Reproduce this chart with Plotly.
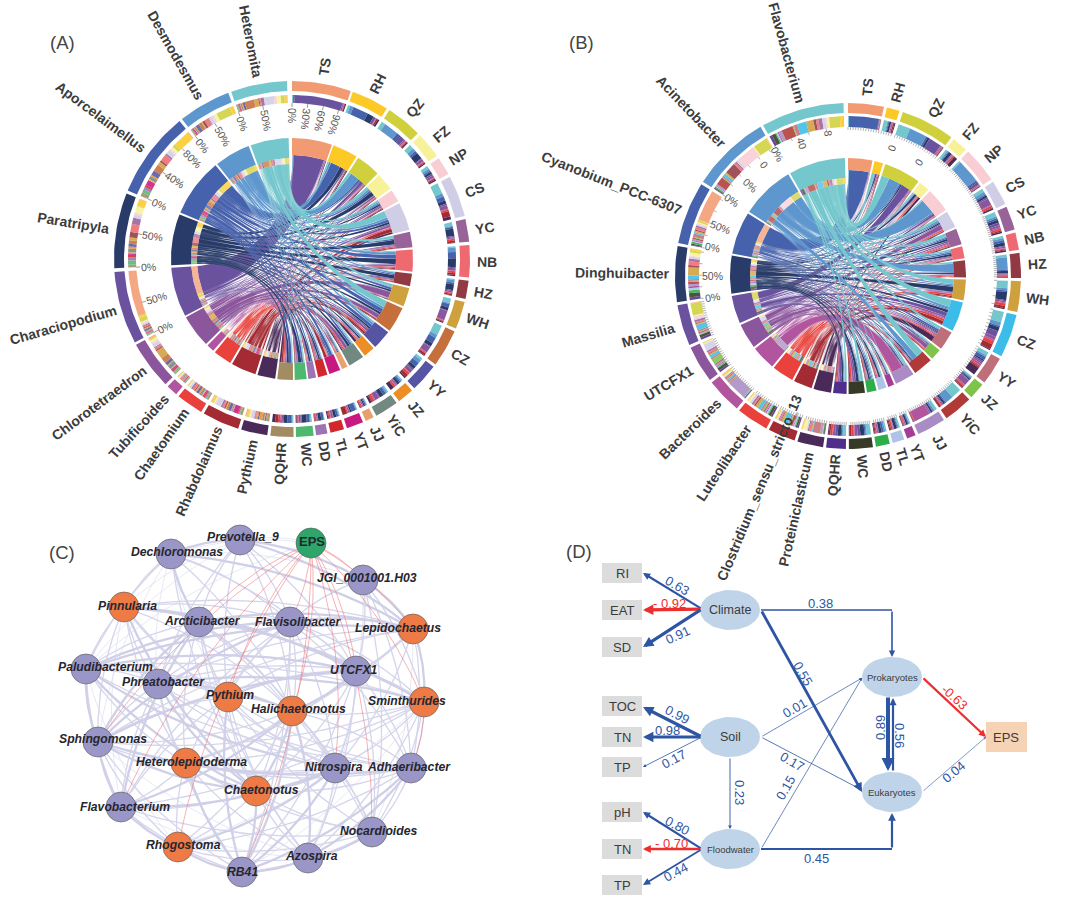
import math
import plotly.graph_objects as go

# ---------- Panel A data ----------
A_sites = ["TS","RH","QZ","FZ","NP","CS","YC","NB","HZ","WH","CZ","YY","JZ","YiC","JJ","YT","TL","DD","WC","QQHR"]
A_site_colors = ["#F29B72","#FDC926","#CFD03B","#F7F29A","#F8CDD4","#CFCEE6","#986399","#EE6A70","#923A44","#CFA03E",
                 "#C46F3C","#5555A3","#EC8E23","#718981","#E8A06E","#C7197F","#D3272E","#9D73B3","#4FB86F","#A38C62"]
A_site_span = [(0,19.3),(20,32.2),(33.2,45),(46,54.5),(55.5,61.5),(62.5,76),(77,84.4),(85.5,96),(97,103),(104,113),
               (114,126.3),(127.3,136.6),(137.6,143),(144,151.7),(152.7,155.5),(156.5,162),(163,167.5),(168.5,172.2),(173,178.7),(179.5,187)]
A_species = ["Heteromita","Desmodesmus","Aporcelaimellus","Paratripyla","Characiopodium","Chlorotetraedron","Tubificoides","Chaetomium","Rhabdolaimus","Pythium"]
A_species_colors = ["#74C7CC","#5E97CE","#4762AC","#283B69","#6B529F","#8C569C","#B0559E","#E9423D","#A42A33","#4A2A58"]
A_species_span = [(340,358.4),(321.8,339),(292.6,320.8),(267,291.6),(242,265.8),(225.3,241.2),(220.6,224.3),(210.7,219.6),(197.6,209.7),(188,196.6)]
A_flow = [
 [0.3,0.1,0.3,0.2,17,0.5,0.1,0.1,0.2,0.4],
 [0.8,1.2,5.4,2.3,0.8,0.2,0.1,0.1,0.5,0.6],
 [1.4,5.2,1.2,0.4,1.6,0.5,0.3,0.2,0.4,0.4],
 [1.6,1.2,0.9,2.4,0.3,0.9,0.2,0.3,0.3,0.4],
 [1.0,0.8,0.5,0.8,0.6,0.8,0.2,0.2,0.5,0.5],
 [3.8,1.2,1.5,1.2,0.5,1.3,0.3,0.6,1.9,1.1],
 [1.2,0.3,0.6,2.4,0.4,0.4,0.1,0.6,0.6,0.2],
 [0.5,1.5,2.2,3.0,0.4,0.8,0.2,0.7,0.6,0.4],
 [0.4,0.9,0.6,2.0,0.4,0.5,0.1,0.4,0.5,0.1],
 [1.6,0.4,1.2,1.1,0.2,3.4,0.2,0.2,0.3,0.4],
 [3.6,1.2,2.2,1.3,0.3,2.2,0.3,0.3,0.7,0.3],
 [0.8,1.2,1.6,1.0,0.6,1.2,0.2,0.8,1.0,0.5],
 [0.4,0.3,0.5,0.8,0.2,0.4,0.2,0.5,0.2,1.2],
 [0.5,0.5,1.0,1.3,0.3,1.5,0.3,0.7,0.4,0.7],
 [0.2,0.2,0.4,0.4,0.1,0.3,0.2,0.4,0.2,0.2],
 [0.3,0.4,1.8,0.6,0.2,0.5,0.2,0.4,1.8,0.1],
 [0.3,0.3,0.7,1.0,0.2,0.6,0.3,0.5,0.3,0.4],
 [0.2,0.1,0.9,1.1,0.2,0.4,0.2,0.5,0.2,0.1],
 [0.4,0.3,1.0,1.6,0.4,0.5,0.2,0.3,0.3,0.3],
 [0.3,0.2,1.3,1.0,0.3,0.5,0.3,0.6,0.8,0.9],
]
A_axis_species = {"Heteromita":[0,50],"Desmodesmus":[0,50],"Aporcelaimellus":[0,40,80],"Paratripyla":[0,50],"Characiopodium":[0,50]}
A_axis_ts = [0,30,60,90]

# ---------- Panel B data ----------
B_sites = A_sites
B_site_colors = ["#F29B72","#FDC926","#CFD03B","#F7F29A","#F8CDD4","#CFCEE6","#986399","#EE6A70","#923A44","#CFA03E",
                 "#3CBCE8","#BE6F7A","#7FC34B","#B03A38","#A98CC4","#A33D98","#AEC3E8","#2EAD4A","#363A27","#4F2E8C"]
B_site_span = [(0,12),(13,17.3),(18.5,36.7),(37.7,43),(44,56),(57,65.4),(66.4,74.4),(75.4,81.3),(82.3,90.7),(91.7,102),
               (103,117.6),(118.6,128),(129,134.5),(135.5,145.3),(146.3,156),(157,160),(161,165),(166,170.7),(171.7,179.7),(180.7,187.3)]
B_species = ["Flavobacterium","Acinetobacter","Cyanobium_PCC-6307","Dinghuibacter","Massilia","UTCFX1","Bacteroides","Luteolibacter","Clostridium_sensu_stricto_13","Proteiniclasticum"]
B_species_colors = A_species_colors
B_species_span = [(330.6,358.5),(303,329.6),(281,302),(261.3,280),(246.5,260.3),(233,245.5),(220,232),(208.2,219),(198,207.2),(188.3,197)]
B_flow = [
 [0.3,0.1,11.2,0.1,0.2,0.05,0.2,0.1,0.1,0.1],
 [1.2,0.3,0.3,0.6,0.1,0.1,0.4,0.1,0.4,0.3],
 [4.2,6.2,0.6,0.8,4.5,0.3,0.4,0.2,0.2,0.2],
 [0.8,0.5,0.3,1.2,0.3,0.2,0.3,0.5,0.2,1.3],
 [0.7,8.5,0.5,0.3,1.0,0.3,0.1,0.2,0.2,0.2],
 [1.2,1.0,0.5,0.8,0.5,2.5,0.3,0.7,0.3,0.5],
 [1.5,0.6,0.6,1.0,0.8,0.7,0.5,0.6,0.4,0.5],
 [0.9,0.9,0.9,1.3,0.4,0.5,0.2,0.4,0.4,0.6],
 [1.0,4.8,0.4,0.8,0.3,0.3,0.3,0.5,0.3,0.2],
 [2.8,0.8,0.6,3.0,0.4,0.5,0.3,1.0,0.8,0.4],
 [3.6,1.2,0.5,1.4,2.0,1.0,0.6,1.1,1.8,0.3],
 [1.4,0.6,1.2,0.6,0.6,0.6,0.8,0.6,0.5,3.0],
 [0.4,0.3,0.3,0.4,0.3,2.0,0.3,0.5,0.4,0.2],
 [4.5,3.5,0.5,0.8,0.4,0.4,0.2,0.4,0.8,0.2],
 [1.3,0.7,0.4,0.8,0.3,0.6,8.0,0.4,0.3,0.2],
 [0.4,0.2,0.3,0.6,0.1,0.3,0.2,0.3,0.2,0.2],
 [0.5,0.3,0.3,0.9,0.1,0.2,0.2,0.5,0.4,0.3],
 [0.5,0.6,0.7,1.0,0.2,0.4,0.2,0.4,0.4,0.3],
 [1.5,0.4,0.4,1.5,1.0,1.0,0.3,0.9,0.6,0.3],
 [1.0,0.3,0.3,1.0,0.8,0.7,0.2,0.6,0.5,0.3],
]
B_axis_angle = [352,341,330,323,313,303,291,282,270,261,19,32]
B_axis_text = ["8","40","0%","0","0%","0%","50%","0%","50%","0%","0","0"]
B_axis_r = [144,140,141,139,134,139,137,139,136,137,135,134]
B_site_tick_step = [1.0,1.0,1.0,0.8,0.8,0.8,0.8,0.8,0.8,3,1.4,1.0,0.8,0.8,0.8,0.8,0.8,0.8,0.8,0.8]
B_species_tick_step = [7,5,5,4.5,0.9,0.9,0.9,0.9,0.9,0.9]

# ---------- Panel C data ----------
C_names = ["EPS","Prevotella_9","Dechloromonas","Pinnularia","Arcticibacter","Flavisolibacter","JGI_0001001.H03","Lepidochaetus",
           "UTCFX1","Sminthurides","Paludibacterium","Phreatobacter","Pythium","Halichaetonotus","Sphingomonas","Heterolepidoderma",
           "Chaetonotus","Nitrospira","Adhaeribacter","Flavobacterium","Nocardioides","Rhogostoma","Azospira","RB41"]
C_x = [311,240,171,124,199,290,363,413,356,424,86,158,228,292,98,186,256,335,411,121,372,178,308,242]
C_y = [543,540,554,607,622,622,580,629,671,702,669,684,697,711,742,763,791,768,768,807,832,847,858,872]
C_kind = ["env","pro","pro","euk","pro","pro","pro","euk","pro","euk","pro","pro","euk","euk","pro","euk","euk","pro","pro","pro","pro","euk","pro","pro"]
C_label_x = [312,243,177,127,202,298,367,398,354,407,105,163,230,298,103,191,261,334,409,125,378,183,311,242]
C_label_y = [541,537,552,606,621,622,578,628,670,701,667,682,695,709,739,762,790,767,767,807,831,845,856,872]
C_edges_thick = [(2,1),(1,6),(6,7),(7,9),(10,14),(14,19),(19,21),(21,23),(23,22),(22,20),(10,5),(10,8),(10,7),(14,5),(14,4),(14,8),
                 (19,13),(19,4),(3,8),(3,9),(4,7),(5,7),(11,9),(11,13),(12,8),(13,8),(13,16),(16,17),(15,16),(15,23),(13,23),(16,23),
                 (2,4),(2,7),(1,7),(10,17),(10,16),(14,16),(14,18),(19,17),(21,17),(23,17),(23,18),(22,18),(13,22),(12,23),(3,16),(11,16)]
C_edges_mid = [(1,4),(1,5),(1,8),(2,5),(2,8),(2,3),(2,10),(3,4),(3,5),(3,7),(3,10),(3,11),(3,12),(3,14),(4,5),(4,8),(4,9),(4,10),(4,11),(4,13),(4,16),
               (5,6),(5,8),(5,9),(5,11),(5,12),(5,13),(5,15),(5,17),(6,8),(6,9),(6,18),(6,20),(7,8),(7,11),(7,12),(7,13),(7,17),(7,18),(8,9),(8,11),(8,13),(8,17),(8,18),(8,20),
               (9,13),(9,17),(9,18),(9,20),(9,22),(10,11),(10,12),(10,13),(10,15),(10,19),(11,12),(11,14),(11,15),(11,19),(12,13),(12,14),(12,16),(12,17),(12,19),(13,14),(13,15),(13,17),(13,18),(13,20),
               (14,15),(14,17),(14,21),(14,23),(15,17),(15,19),(15,21),(15,22),(16,18),(16,19),(16,20),(16,21),(16,22),(17,18),(17,20),(17,22),(18,20),(19,20),(19,23),(20,23),(21,22),(21,20),
               (1,11),(1,12),(1,13),(2,13),(2,16),(3,13),(3,15),(3,17),(4,12),(4,15),(4,17),(4,20),(4,22),(5,16),(5,18),(5,19),(5,23),(7,14),(7,15),(8,15),(8,16),(8,22),(9,15),(9,19),(10,9),(10,18),(11,17),(11,18),(11,23),(12,18),(12,20),(12,22),(14,9),(15,18),(15,20),(21,13),(21,18),(23,8)]
C_edges_thin = [(0,1),(0,2),(0,10),(1,3),(1,10),(2,14),(3,19),(10,21),(6,9),(6,22),(9,23),(18,22),(2,6),(6,17),(1,12),(2,11),(2,12),(14,22),(19,22),(9,21),(7,20)]
C_edges_red = [(0,6),(0,7),(0,9),(0,5),(0,4),(0,14),(0,19),(0,23),(0,21),(0,13),(0,8),(0,17),(0,20),(9,18),(0,12)]

# ---------- Panel D data ----------
D_box_names = ["RI","EAT","SD","TOC","TN","TP","pH","TN","TP"]
D_box_x = [622,622,622,622,622,622,622,622,622]
D_box_y = [573,610,647,706,737,767,812,849,885]
D_ell_names = ["Climate","Soil","Floodwater","Prokaryotes","Eukaryotes"]
D_ell_x = [730,730,730,892,892]
D_ell_y = [610,737,849,677,792]
D_ell_size = [12.5,12.5,9.5,9.5,9.5]
D_arrow_x0 = [702,702,702,702,702,702,702,702,702,761,761,761,761,730,761,888,893,922,922]
D_arrow_y0 = [609,609,609,737,737,737,849,849,849,610,610,737,737,757,849,696,772,677,792]
D_arrow_x1 = [643,643,643,643,643,643,643,643,643,892,862,862,862,730,862,888,893,986,986]
D_arrow_y1 = [573,610,647,707,737,767,812,849,885,657,792,678,790,829,678,771,698,737,737]
D_arrow_w = [2.2,3.2,3.2,3.2,3.2,0.8,2.2,2.4,1.8,1.6,2.8,0.7,0.8,0.9,0.7,4,2.2,2.2,0.6]
D_arrow_red = [0,1,0,0,0,0,0,1,0,0,0,0,0,0,0,0,0,1,0]
D_arrow_elbow_x = [None]*9 + [892] + [None]*9
D_arrow_elbow_y = [None]*9 + [610] + [None]*9
D_floodwater_x = [761,892,892]
D_floodwater_y = [849,849,813]
D_coef_text = ["0.63","- 0.92","0.91","0.99","0.98","0.17","0.80","- 0.70","0.44","0.38","0.55","0.01","0.17","0.23","0.15","0.45","0.89","0.56","-0.63","0.04"]
D_coef_x = [677,669,677,677,667,673,677,671,675,820,803,794,792,740,785,816,880,900,955,953]
D_coef_y = [585,603,635,714,730,759,825,843,872,603,673,708,761,792,788,858,728,735,697,772]
D_coef_a = [30,0,-25,28,0,-28,28,0,-28,0,60,-30,30,90,-60,0,-90,90,42,-40]
D_coef_red = [0,1,0,0,0,0,0,1,0,0,0,0,0,0,0,0,0,0,1,0]

panel_letters = ["(A)","(B)","(C)","(D)"]
panel_x = [62,581,62,579]
panel_y = [42,42,552,551]

FONT = "Liberation Sans, Arial, sans-serif"
fig = go.Figure()
ann = []


def pt(cx, cy, r, a):
    t = math.radians(a)
    return cx + r * math.sin(t), cy - r * math.cos(t)


def rgba(h, al=1.0):
    return "rgba(%d,%d,%d,%.3f)" % (int(h[1:3], 16), int(h[3:5], 16), int(h[5:7], 16), al)


def add_poly(groups, edge=None):
    for col, (xs, ys) in groups.items():
        fig.add_trace(go.Scatter(x=xs, y=ys, mode="lines", fill="toself", fillcolor=col,
                                 line=dict(width=edge[1], color=edge[0]) if edge else dict(width=0),
                                 hoverinfo="skip", showlegend=False))


def push(groups, col, pts):
    g = groups.setdefault(col, ([], []))
    g[0].extend(p[0] for p in pts + [pts[0]])
    g[1].extend(p[1] for p in pts + [pts[0]])
    g[0].append(None)
    g[1].append(None)


def arc(cx, cy, r, a0, a1):
    n = max(2, int(abs(a1 - a0) / 1.5) + 2)
    return [pt(cx, cy, r, a0 + (a1 - a0) * i / (n - 1)) for i in range(n)]


def annular(groups, col, cx, cy, r0, r1, a0, a1):
    push(groups, col, arc(cx, cy, r1, a0, a1) + arc(cx, cy, r0, a1, a0))


def bez(p0, p1, c):
    out = []
    for i in range(1, 23):
        t = i / 23
        out.append(((1 - t) ** 2 * p0[0] + 2 * t * (1 - t) * c[0] + t * t * p1[0],
                    (1 - t) ** 2 * p0[1] + 2 * t * (1 - t) * c[1] + t * t * p1[1]))
    return out


def cubic(p0, c0, c1, p1, t):
    u = 1 - t
    return (u**3 * p0[0] + 3*u*u*t * c0[0] + 3*u*t*t * c1[0] + t**3 * p1[0],
            u**3 * p0[1] + 3*u*u*t * c0[1] + 3*u*t*t * c1[1] + t**3 * p1[1])


def ribbon(cx, cy, Rs, Rb, a0, a1, b0, b1, k=0.38, squeeze=0.5):
    am, bm = (a0 + a1) / 2, (b0 + b1) / 2
    P0, P1 = pt(cx, cy, Rs, am), pt(cx, cy, Rb, bm)
    C0, C1 = pt(cx, cy, Rs * k, am), pt(cx, cy, Rb * k, bm)
    wa = Rs * math.radians(a1 - a0)
    wb = Rb * math.radians(b1 - b0)
    A1 = pt(cx, cy, Rs, a1)
    n = 26
    side_p, side_m = [], []
    sign = None
    for i in range(1, n):
        t = i / n
        x, y = cubic(P0, C0, C1, P1, t)
        xa, ya = cubic(P0, C0, C1, P1, t - 0.01)
        xb, yb = cubic(P0, C0, C1, P1, t + 0.01)
        tx, ty = xb - xa, yb - ya
        L = math.hypot(tx, ty) or 1
        nx, ny = -ty / L, tx / L
        if sign is None:
            sign = 1 if nx * (A1[0] - P0[0]) + ny * (A1[1] - P0[1]) >= 0 else -1
        w = (wa * (1 - t) + wb * t) * (1 - squeeze * math.sin(math.pi * t)) / 2
        side_p.append((x + sign * nx * w, y + sign * ny * w))
        side_m.append((x - sign * nx * w, y - sign * ny * w))
    return arc(cx, cy, Rs, a0, a1) + side_p + arc(cx, cy, Rb, b0, b1) + side_m[::-1]


def text_w(s, size, bold=True):
    w = 0
    for ch in s:
        if ch in "iljI.,:'": w += .28
        elif ch in "ftr_-": w += .37 if ch != "_" else .55
        elif ch in "mwMW": w += .86
        elif ch.isupper(): w += .70
        else: w += .57
    return w * size


def note(x, y, s, size=10, color="#444", angle=0, bold=False, italic=False):
    if bold: s = "<b>" + s + "</b>"
    if italic: s = "<i>" + s + "</i>"
    ann.append(dict(x=x, y=y, xref="x", yref="y", text=s, showarrow=False, textangle=angle, xanchor="center", yanchor="middle",
                    font=dict(family=FONT, size=size, color=color)))


def chord(cx, cy, rad, sites, scol, sspan, species, pcol, pspan, flow, near_override, label_size):
    R0, R1, R2, R3, Rb, Rs, Rp1 = rad
    ns, np_ = len(sites), len(species)
    row = [sum(r) for r in flow]
    colsum = [sum(flow[i][j] for i in range(ns)) for j in range(np_)]
    sa = {}
    for i in range(ns):
        a = sspan[i][0]
        w = sspan[i][1] - sspan[i][0]
        for j in range(np_):
            d = flow[i][j] / row[i] * w
            sa[(i, j)] = (a, a + d)
            a += d
    pa = {}
    for j in range(np_):
        a = pspan[j][0]
        w = pspan[j][1] - pspan[j][0]
        for i in range(ns - 1, -1, -1):
            d = flow[i][j] / colsum[j] * w
            pa[(i, j)] = (a, a + d)
            a += d
    for j in range(np_ - 1, -1, -1):
        g = {}
        for i in range(ns):
            a0, a1 = sa[(i, j)]
            b0, b1 = pa[(i, j)]
            push(g, pcol[j], ribbon(cx, cy, Rs, Rb, a0, a1, b0, b1))
        add_poly(g, ("rgba(255,255,255,0.22)", 0.3))
    g_outer, g_band = {}, {}
    for i in range(ns):
        annular(g_outer, scol[i], cx, cy, R0, R1, *sspan[i])
        annular(g_band, scol[i], cx, cy, Rs, Rp1, *sspan[i])
    for j in range(np_):
        annular(g_outer, pcol[j], cx, cy, R0, R1, *pspan[j])
        annular(g_band, pcol[j], cx, cy, Rb + 6, Rp1, *pspan[j])
    add_poly(g_outer)
    add_poly(g_band)
    g = {}
    for (i, j), (a0, a1) in sa.items():
        annular(g, pcol[j], cx, cy, R2, R3, a0, a1)
    add_poly(g)
    g = {}
    for (i, j), (a0, a1) in pa.items():
        annular(g, rgba(scol[i], 0.88), cx, cy, R2, R3, a0, a1)
        annular(g, rgba(scol[i], 0.75), cx, cy, Rb, Rb + 6, a0, a1)
    add_poly(g)
    for name, sp in list(zip(sites, sspan)) + list(zip(species, pspan)):
        m = (sp[0] + sp[1]) / 2
        near = near_override.get(name, R1 + 7)
        w = text_w(name, label_size)
        x, y = pt(cx, cy, near + w / 2, m)
        ang = m - 90 if m < 180 else m - 270
        note(x, y, name, label_size, "#3c3c3c", ang, bold=True)


def radial_tick(cx, cy, r0, r1, angles, width=0.6, col="#555"):
    xs, ys = [], []
    for a in angles:
        p, q = pt(cx, cy, r0, a), pt(cx, cy, r1, a)
        xs += [p[0], q[0], None]
        ys += [p[1], q[1], None]
    fig.add_trace(go.Scatter(x=xs, y=ys, mode="lines", line=dict(color=col, width=width), hoverinfo="skip", showlegend=False))


def step_angles(span, step):
    out = []
    a = span[0]
    while a <= span[1]:
        out.append(a)
        a += step
    return out


# --- Panel A ---
A_c = (292, 259)
chord(A_c[0], A_c[1], (168, 178, 156, 164, 95, 104, 121), A_sites, A_site_colors, A_site_span, A_species,
      A_species_colors, A_species_span, A_flow, {}, 14)
ticks = []
for name, pcs in A_axis_species.items():
    sp = A_species_span[A_species.index(name)]
    for pc in pcs:
        a = sp[0] + (sp[1] - sp[0]) * pc / 100
        ticks.append(a)
        w = text_w(str(pc) + "%", 10.5, False)
        x, y = pt(A_c[0], A_c[1], 150 - w / 2, a)
        note(x, y, str(pc) + "%", 10.5, "#555", a - 270)
for pc in A_axis_ts:
    a = A_site_span[0][0] + (A_site_span[0][1] - A_site_span[0][0]) * pc / 100
    ticks.append(a)
    w = text_w(str(pc) + "%", 10.5, False)
    x, y = pt(A_c[0], A_c[1], 150 - w / 2, a)
    note(x, y, str(pc) + "%", 10.5, "#555", a + 90)
radial_tick(A_c[0], A_c[1], 152, 156, ticks)

# --- Panel B ---
B_c = (848, 276)
chord(B_c[0], B_c[1], (163, 173, 149, 160, 92, 106, 118), B_sites, B_site_colors, B_site_span, B_species,
      B_species_colors, B_species_span, B_flow, {"Clostridium_sensu_stricto_13": 131}, 14)
tk = []
for sp, st in zip(B_site_span, B_site_tick_step):
    tk += step_angles(sp, st)
for sp, st in zip(B_species_span, B_species_tick_step):
    tk += step_angles(sp, st)
radial_tick(B_c[0], B_c[1], 146, 149, tk, 0.5, "#666")
for a, s, r in zip(B_axis_angle, B_axis_text, B_axis_r):
    x, y = pt(B_c[0], B_c[1], r, a)
    note(x, y, s, 10.5, "#555", a - 270 if a > 180 else a + 90)

# --- Panel C ---
groups = [(C_edges_thin, "#DEDEF0", 0.7), (C_edges_mid, "#D5D5EB", 1.3), (C_edges_thick, "#CFCFE8", 2.3), (C_edges_red, "#EF7478", 0.55)]
gcx, gcy = 255, 705
for edges, col, wd in groups:
    xs, ys = [], []
    for a, b in edges:
        x0, y0, x1, y1 = C_x[a], C_y[a], C_x[b], C_y[b]
        mx, my = (x0 + x1) / 2, (y0 + y1) / 2
        dx, dy = x1 - x0, y1 - y0
        nx, ny = -dy, dx
        if nx * (mx - gcx) + ny * (my - gcy) < 0:
            nx, ny = -nx, -ny
        cx_, cy_ = mx + 0.11 * nx, my + 0.11 * ny
        p = [(x0, y0)] + bez((x0, y0), (x1, y1), (cx_, cy_)) + [(x1, y1)]
        xs += [q[0] for q in p] + [None]
        ys += [q[1] for q in p] + [None]
    fig.add_trace(go.Scatter(x=xs, y=ys, mode="lines", line=dict(color=col, width=wd), hoverinfo="skip", showlegend=False))
node_col = {"env": "#2EA66B", "pro": "#9A97C8", "euk": "#EE7A46"}
fig.add_trace(go.Scatter(x=C_x, y=C_y, mode="markers", hoverinfo="skip", showlegend=False,
                         marker=dict(size=30, color=[node_col[k] for k in C_kind], line=dict(color="#555", width=0.6))))
for n, x, y in zip(C_names, C_label_x, C_label_y):
    if n == "EPS":
        note(x, y, n, 13, "#1c2a2a", 0, bold=True)
    else:
        note(x, y, n, 12.2, "#26262e", 0, bold=True, italic=True)

# --- Panel D ---
g = {}
for x, y in zip(D_box_x, D_box_y):
    push(g, "#DCDCDC", [(x - 20, y - 10), (x + 20, y - 10), (x + 20, y + 10), (x - 20, y + 10)])
push(g, "#F6D3B5", [(986, 722), (1027, 722), (1027, 752), (986, 752)])
for x, y in zip(D_ell_x, D_ell_y):
    push(g, "#BFD4E8", [(x + 30 * math.cos(i * math.pi / 30), y + 20 * math.sin(i * math.pi / 30)) for i in range(60)])
add_poly(g)
BLUE, RED = "#2E55A4", "#EE2E2E"
fig.add_trace(go.Scatter(x=D_floodwater_x[:2], y=D_floodwater_y[:2], mode="lines", line=dict(color=BLUE, width=2.2), hoverinfo="skip", showlegend=False))
ann.append(dict(x=D_floodwater_x[2], y=D_floodwater_y[2], ax=D_floodwater_x[1], ay=D_floodwater_y[1], xref="x", yref="y", axref="x", ayref="y",
                text="", showarrow=True, arrowhead=2, arrowsize=0.7, arrowwidth=2.2, arrowcolor=BLUE))
for k in range(len(D_arrow_x0)):
    col = RED if D_arrow_red[k] else BLUE
    sx, sy = D_arrow_x0[k], D_arrow_y0[k]
    if D_arrow_elbow_x[k] is not None:
        ex, ey = D_arrow_elbow_x[k], D_arrow_elbow_y[k]
        fig.add_trace(go.Scatter(x=[sx, ex], y=[sy, ey], mode="lines", line=dict(color=col, width=D_arrow_w[k]), hoverinfo="skip", showlegend=False))
        sx, sy = ex, ey
    ann.append(dict(x=D_arrow_x1[k], y=D_arrow_y1[k], ax=sx, ay=sy, xref="x", yref="y", axref="x", ayref="y", text="", showarrow=True,
                    arrowhead=2, arrowsize=0.8 if D_arrow_w[k] < 2 else 0.65, arrowwidth=D_arrow_w[k], arrowcolor=col))
for n, x, y, s in zip(D_box_names, D_box_x, D_box_y, [13] * 9):
    note(x, y, n, s, "#3c3c3c")
note(1006, 737, "EPS", 13, "#3c3c3c")
for n, x, y, s in zip(D_ell_names, D_ell_x, D_ell_y, D_ell_size):
    note(x, y, n, s, "#3c3c3c")
for t, x, y, a, r in zip(D_coef_text, D_coef_x, D_coef_y, D_coef_a, D_coef_red):
    note(x, y, t, 13, RED if r else BLUE, a)

for t, x, y in zip(panel_letters, panel_x, panel_y):
    note(x, y, t, 18.5, "#444")

fig.update_layout(width=1080, height=923, margin=dict(l=0, r=0, t=0, b=0), autosize=False,
                  paper_bgcolor="white", plot_bgcolor="white", showlegend=False, annotations=ann,
                  xaxis=dict(range=[0, 1080], visible=False, fixedrange=True),
                  yaxis=dict(range=[923, 0], visible=False, fixedrange=True))
fig.write_html("out.html", post_script="document.body.style.margin='0';document.body.style.overflow='hidden';",
               config={"displayModeBar": False})
